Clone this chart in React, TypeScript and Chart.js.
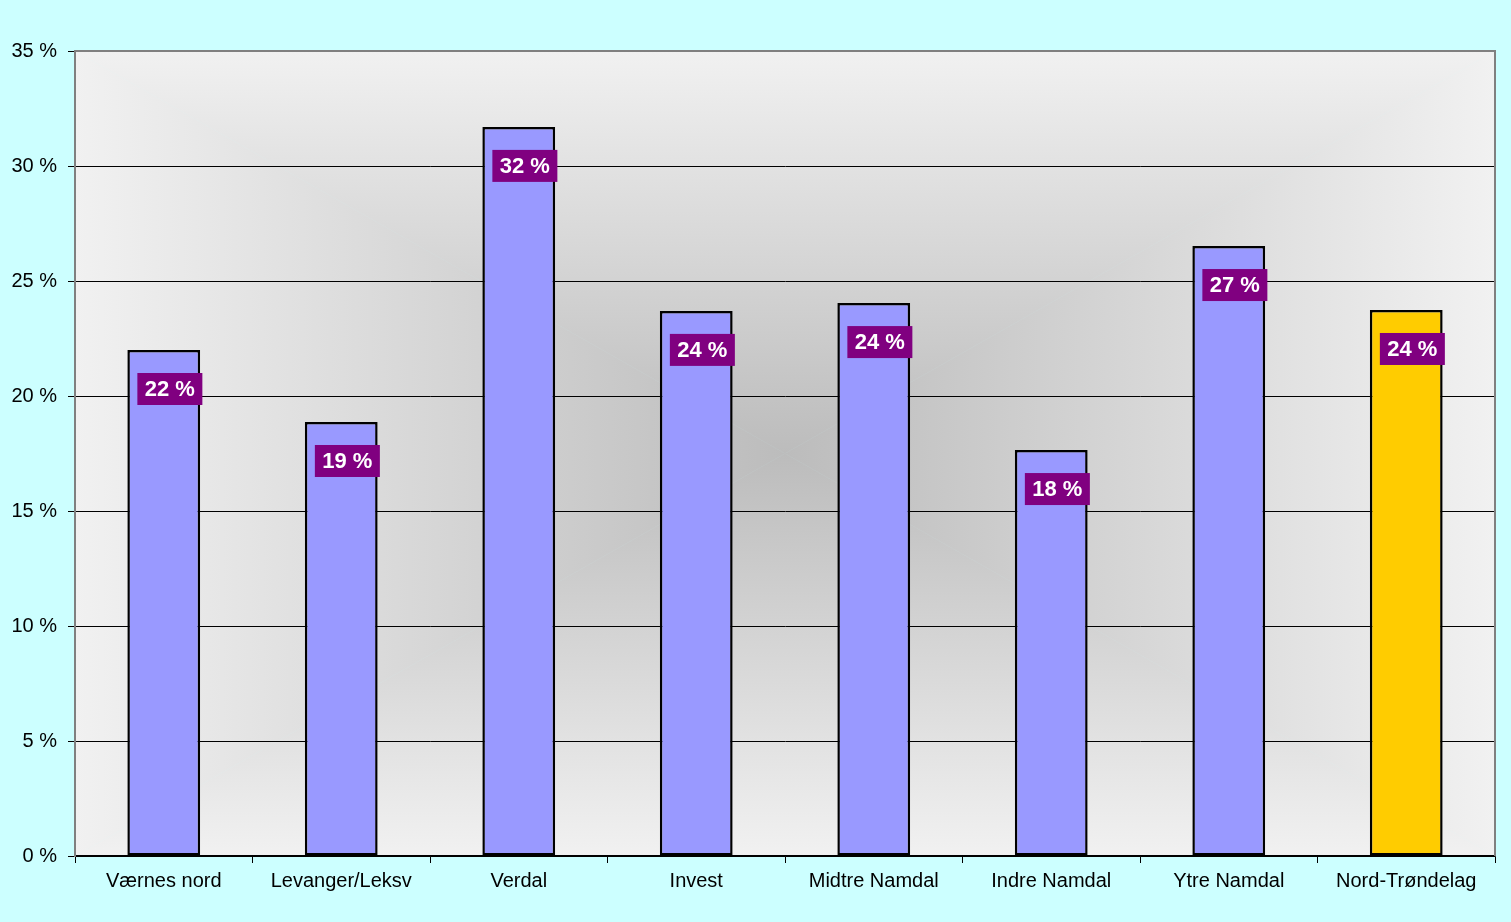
import React, { useEffect, useRef } from "react";
import { Chart, registerables } from "chart.js";

Chart.register(...registerables);

const categories = [
  "Værnes nord",
  "Levanger/Leksv",
  "Verdal",
  "Invest",
  "Midtre Namdal",
  "Indre Namdal",
  "Ytre Namdal",
  "Nord-Trøndelag",
];
const values = [22.0, 18.87, 31.7, 23.7, 24.04, 17.65, 26.52, 23.74];
const barColors = ["#9999FF", "#9999FF", "#9999FF", "#9999FF", "#9999FF", "#9999FF", "#9999FF", "#FFCC00"];
const yTicks = { min: 0, max: 35, step: 5 };

const FONT = "'Liberation Sans', Arial, sans-serif";

const bgPlugin = {
  id: "bgPlugin",
  beforeDraw(chart: any) {
    const { ctx, chartArea: a, width, height } = chart;
    ctx.save();
    ctx.fillStyle = "#CCFFFF";
    ctx.fillRect(0, 0, width, height);
    const cx = (a.left + a.right) / 2;
    const cy = (a.top + a.bottom) / 2;
    const inner = "#bcbcbc";
    const outer = "#f1f1f1";
    const tris: [number, number, number, number, number, number][] = [
      [a.left, a.top, a.right, a.top, cx, a.top],
      [a.right, a.top, a.right, a.bottom, a.right, cy],
      [a.right, a.bottom, a.left, a.bottom, cx, a.bottom],
      [a.left, a.bottom, a.left, a.top, a.left, cy],
    ];
    for (const t of tris) {
      const g = ctx.createLinearGradient(cx, cy, t[4], t[5]);
      g.addColorStop(0, inner);
      g.addColorStop(1, outer);
      ctx.beginPath();
      ctx.moveTo(cx, cy);
      ctx.lineTo(t[0], t[1]);
      ctx.lineTo(t[2], t[3]);
      ctx.closePath();
      ctx.fillStyle = g;
      ctx.fill();
      ctx.strokeStyle = g;
      ctx.lineWidth = 0.6;
      ctx.stroke();
    }
    ctx.restore();
  },
  afterDraw(chart: any) {
    const { ctx, chartArea: a } = chart;
    ctx.save();
    ctx.strokeStyle = "#808080";
    ctx.lineWidth = 2;
    ctx.beginPath();
    ctx.moveTo(a.left, a.top);
    ctx.lineTo(a.right, a.top);
    ctx.lineTo(a.right, a.bottom);
    ctx.stroke();
    ctx.restore();
  },
};

const labelPlugin = {
  id: "labelPlugin",
  afterDatasetsDraw(chart: any) {
    const { ctx } = chart;
    const meta = chart.getDatasetMeta(0);
    ctx.save();
    meta.data.forEach((el: any, i: number) => {
      const left = el.x - el.width / 2 + 10;
      const top = el.y + 23;
      const w = 65;
      const h = 32;
      ctx.fillStyle = "#800080";
      ctx.fillRect(left, top, w, h);
      ctx.fillStyle = "#FFFFFF";
      ctx.font = `bold 22px ${FONT}`;
      ctx.textAlign = "center";
      ctx.textBaseline = "middle";
      ctx.fillText(`${Math.round(values[i])} %`, left + w / 2, top + h / 2 + 1);
    });
    ctx.restore();
  },
};

export default function App() {
  const ref = useRef<HTMLCanvasElement>(null);
  useEffect(() => {
    if (!ref.current) return;
    const chart = new Chart(ref.current, {
      type: "bar",
      data: {
        labels: categories,
        datasets: [
          {
            data: values,
            backgroundColor: barColors,
            borderColor: "#000000",
            borderWidth: 2.5,
            borderSkipped: false,
            barPercentage: 0.41,
            categoryPercentage: 1,
          },
        ],
      },
      options: {
        responsive: false,
        animation: false,
        layout: { padding: { top: 51, right: 16, left: 0, bottom: 0 } },
        plugins: { legend: { display: false }, tooltip: { enabled: false } },
        scales: {
          x: {
            afterFit: (s: any) => {
              s.height = 66;
            },
            grid: {
              offset: true,
              drawOnChartArea: false,
              tickLength: 7,
              color: "#000000",
            },
            border: { color: "#000000", width: 1.5 },
            ticks: {
              color: "#000000",
              padding: 6,
              font: { family: FONT, size: 20 },
              maxRotation: 0,
              autoSkip: false,
            },
          },
          y: {
            min: yTicks.min,
            max: yTicks.max,
            afterFit: (s: any) => {
              s.width = 75;
            },
            grid: {
              color: (c: any) => (c.tick && c.tick.value === yTicks.max ? "#808080" : "#000000"),
              tickColor: "#000000",
              tickLength: 7,
              lineWidth: 1,
            },
            border: { color: "#808080", width: 2 },
            ticks: {
              stepSize: yTicks.step,
              color: "#000000",
              padding: 11,
              font: { family: FONT, size: 20 },
              callback: (v: any) => `${v} %`,
            },
          },
        },
      },
      plugins: [bgPlugin, labelPlugin],
    });
    return () => chart.destroy();
  }, []);
  return (
    <div style={{ position: "absolute", left: 0, top: 0, width: 1511, height: 922, background: "#CCFFFF" }}>
      <canvas ref={ref} width={1511} height={922} style={{ display: "block" }} />
    </div>
  );
}
